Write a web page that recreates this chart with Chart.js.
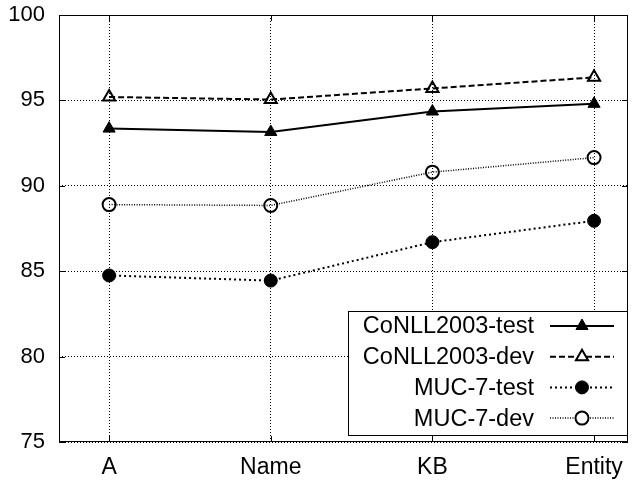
<!DOCTYPE html>
<html><head><meta charset="utf-8">
<script src="https://cdn.jsdelivr.net/npm/chart.js@4/dist/chart.umd.min.js"></script>
<style>html,body{margin:0;padding:0;background:#fff;overflow:hidden}</style>
</head><body>
<canvas id="c" width="637" height="480"></canvas>
<script>
const categories = ['A', 'Name', 'KB', 'Entity'];
const seriesNames = ['CoNLL2003-test', 'CoNLL2003-dev', 'MUC-7-test', 'MUC-7-dev'];
const conllTest = [93.35, 93.15, 94.35, 94.8];
const conllDev = [95.2, 95.05, 95.7, 96.35];
const mucTest = [84.75, 84.45, 86.7, 87.95];
const mucDev = [88.9, 88.85, 90.8, 91.65];
const yTickValues = [75, 80, 85, 90, 95, 100];

const FONT = 'Liberation Sans, Arial, Helvetica, sans-serif';
const toPts = arr => arr.map((v, i) => ({x: i, y: v}));

const datasets = [
  {label: seriesNames[0], data: toPts(conllTest), borderColor: '#000', borderWidth: 2,
   pointStyle: 'triangle', pointRadius: 7, pointBackgroundColor: '#000', pointBorderColor: '#000', pointBorderWidth: 1},
  {label: seriesNames[1], data: toPts(conllDev), borderColor: '#000', borderWidth: 2, borderDash: [6, 3],
   pointStyle: 'triangle', pointRadius: 7, pointBackgroundColor: 'rgba(0,0,0,0)', pointBorderColor: '#000', pointBorderWidth: 2},
  {label: seriesNames[2], data: toPts(mucTest), borderColor: '#000', borderWidth: 2, borderDash: [2, 3],
   pointStyle: 'circle', pointRadius: 6.5, pointBackgroundColor: '#000', pointBorderColor: '#000', pointBorderWidth: 1},
  {label: seriesNames[3], data: toPts(mucDev), borderColor: '#000', borderWidth: 1.5, borderDash: [1, 1.5],
   pointStyle: 'circle', pointRadius: 6.5, pointBackgroundColor: 'rgba(0,0,0,0)', pointBorderColor: '#000', pointBorderWidth: 2}
];
datasets.forEach(d => { d.fill = false; d.tension = 0; d.backgroundColor = d.pointBackgroundColor; });

const framePlugin = {
  id: 'frame',
  beforeDatasetsDraw(chart) {
    const {ctx, chartArea: a, scales} = chart;
    ctx.save();
    ctx.strokeStyle = '#000';
    ctx.lineWidth = 1;
    ctx.setLineDash([]);
    const tl = 6;
    [0, 1, 2, 3].forEach(i => {
      const x = Math.round(scales.x.getPixelForValue(i)) + 0.5;
      ctx.beginPath();
      ctx.moveTo(x, a.bottom); ctx.lineTo(x, a.bottom - tl);
      ctx.moveTo(x, a.top); ctx.lineTo(x, a.top + tl);
      ctx.stroke();
    });
    yTickValues.forEach(v => {
      const y = Math.round(scales.y.getPixelForValue(v)) + 0.5;
      ctx.beginPath();
      ctx.moveTo(a.left, y); ctx.lineTo(a.left + tl, y);
      ctx.moveTo(a.right, y); ctx.lineTo(a.right - tl, y);
      ctx.stroke();
    });
    ctx.restore();
  },
  afterDatasetsDraw(chart) {
    const {ctx, chartArea: a} = chart;
    ctx.save();
    ctx.setLineDash([]);
    ctx.strokeStyle = '#000';
    ctx.lineWidth = 1;
    ctx.strokeRect(Math.round(a.left) + 0.5, Math.round(a.top) + 0.5, Math.round(a.right - a.left) - 1, Math.round(a.bottom - a.top) - 1);
    const bx = 348, by = 311, bw = Math.round(a.right) - 348, bh = 125;
    ctx.fillStyle = '#fff';
    ctx.fillRect(bx, by, bw, bh);
    ctx.strokeRect(bx + 0.5, by + 0.5, bw - 1, bh - 1);
    ctx.font = '23.5px ' + FONT;
    ctx.textAlign = 'right';
    ctx.textBaseline = 'middle';
    chart.data.datasets.forEach((d, i) => {
      const y = 326 + i * 30.7;
      ctx.fillStyle = '#000';
      ctx.fillText(d.label, 534, y + 1);
      ctx.save();
      ctx.strokeStyle = d.borderColor;
      ctx.lineWidth = d.borderWidth;
      ctx.setLineDash(d.borderDash || []);
      ctx.beginPath();
      ctx.moveTo(550, y); ctx.lineTo(614, y);
      ctx.stroke();
      ctx.setLineDash([]);
      ctx.fillStyle = d.pointBackgroundColor === 'rgba(0,0,0,0)' ? '#fff' : d.pointBackgroundColor;
      ctx.strokeStyle = d.pointBorderColor;
      ctx.lineWidth = d.pointBorderWidth;
      ctx.beginPath();
      const r = d.pointRadius;
      if (d.pointStyle === 'circle') {
        ctx.arc(582, y, r, 0, Math.PI * 2);
      } else {
        ctx.moveTo(582, y - r);
        ctx.lineTo(582 + r * Math.cos(Math.PI / 6), y + r / 2);
        ctx.lineTo(582 - r * Math.cos(Math.PI / 6), y + r / 2);
        ctx.closePath();
      }
      ctx.fill();
      ctx.stroke();
      ctx.restore();
    });
    ctx.restore();
  }
};

new Chart(document.getElementById('c'), {
  type: 'line',
  data: {datasets},
  options: {
    responsive: false,
    animation: false,
    devicePixelRatio: 1,
    events: [],
    layout: {padding: {left: 0, right: 9, top: 15, bottom: 0}},
    plugins: {legend: {display: false}, tooltip: {enabled: false}},
    scales: {
      x: {
        type: 'linear', min: -0.31, max: 3.21,
        afterBuildTicks: s => { s.ticks = categories.map((c, i) => ({value: i})); },
        afterFit: s => { s.height = 38; s.paddingLeft = 0; s.paddingRight = 0; },
        border: {display: false, dash: [1, 2]},
        grid: {color: '#000', lineWidth: 1, drawTicks: false},
        ticks: {color: '#000', font: {family: FONT, size: 23}, padding: 12, maxRotation: 0, autoSkip: false,
                callback: v => categories[v] ?? ''}
      },
      y: {
        min: 75, max: 100,
        afterBuildTicks: s => { s.ticks = yTickValues.map(v => ({value: v})); },
        afterFit: s => { s.width = 59; s.paddingTop = 0; s.paddingBottom = 0; },
        border: {display: false, dash: [1, 2]},
        grid: {color: '#000', lineWidth: 1, drawTicks: false},
        ticks: {color: '#000', font: {family: FONT, size: 22}, padding: 14}
      }
    }
  },
  plugins: [framePlugin]
});
</script>
</body></html>
